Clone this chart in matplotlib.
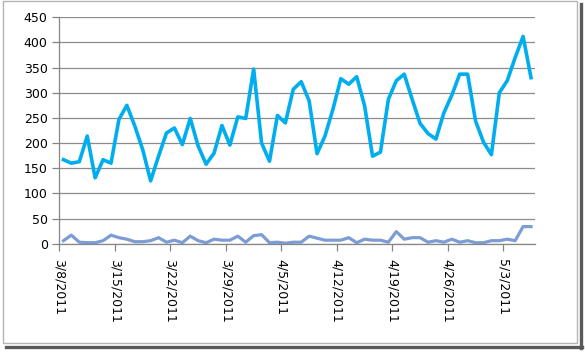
import matplotlib.pyplot as plt
import pandas as pd
from matplotlib.patches import Rectangle
from matplotlib.lines import Line2D

#Date giornaliere (60 giorni a partire dal 3/8/2011)
dates = pd.date_range("2011-03-08", periods=60, freq="D")

#Serie principale (azzurra)
main_vals = [167, 160, 163, 214, 131, 167, 160, 247, 275, 234,
             187, 125, 174, 220, 230, 197, 249, 194, 158, 180,
             235, 196, 252, 249, 347, 200, 164, 255, 240, 307,
             322, 284, 179, 214, 267, 328, 317, 332, 274, 174,
             182, 287, 324, 337, 287, 239, 219, 208, 260, 295,
             337, 337, 244, 202, 177, 300, 324, 370, 412, 330]

#Serie secondaria (bassa)
low_vals = [6, 17, 3, 2, 2, 6, 17, 12, 9, 4,
            4, 6, 12, 3, 7, 2, 15, 6, 2, 9,
            7, 7, 15, 3, 16, 18, 2, 3, 1, 3,
            3, 15, 11, 7, 7, 7, 12, 2, 9, 7,
            7, 3, 24, 9, 12, 12, 3, 6, 3, 9,
            3, 6, 2, 2, 6, 6, 9, 6, 34, 34]

yticks = list(range(0, 451, 50))
tick_dates = dates[::7]
tick_labels = [f"{d.month}/{d.day}/{d.year}" for d in tick_dates]

fig = plt.figure(figsize=(5.85, 3.53), dpi=100)
ax = fig.add_axes([0.1017, 0.3096, 0.8128, 0.6414])

#I punti stanno al centro di ogni giorno (asse di tipo data di Excel)
x = dates + pd.Timedelta(hours=12)
ax.plot(x, low_vals, color="#7c9dd4", linewidth=2.3, solid_joinstyle="round")
ax.plot(x, main_vals, color="#00aeef", linewidth=2.6, solid_joinstyle="round")

ax.set_xlim(dates[0], dates[-1] + pd.Timedelta(days=1))
ax.set_ylim(0, 450)
ax.set_yticks(yticks)
ax.set_xticks(tick_dates)
ax.set_xticklabels(tick_labels, rotation=270, va="top", ha="center")

ax.grid(axis="y", color="#8c8c8c", linewidth=0.9)
ax.set_axisbelow(True)
for side in ["top", "right"]:
    ax.spines[side].set_visible(False)
for side in ["left", "bottom"]:
    ax.spines[side].set_color("#868686")
    ax.spines[side].set_linewidth(0.9)
ax.tick_params(axis="both", colors="#868686", length=5, width=0.9, labelsize=9,
               labelcolor="black")
ax.tick_params(axis="x", pad=6)

#Bordo dell'area del grafico con ombra
W, H = 585, 353
fig.patches.append(Rectangle((3 / W, 1 - 343 / H), 574 / W, 342 / H, transform=fig.transFigure,
                             fill=False, edgecolor="#b4b4b4", linewidth=1.0))
fig.lines.append(Line2D([580.5 / W, 580.5 / W], [1 - 4 / H, 1 - 348 / H], transform=fig.transFigure,
                        color="#5a5a5a", linewidth=2.4))
fig.lines.append(Line2D([6 / W, 581.5 / W], [1 - 347 / H, 1 - 347 / H], transform=fig.transFigure,
                        color="#5a5a5a", linewidth=2.4))

fig.savefig("out.png", dpi=100, facecolor="white")
